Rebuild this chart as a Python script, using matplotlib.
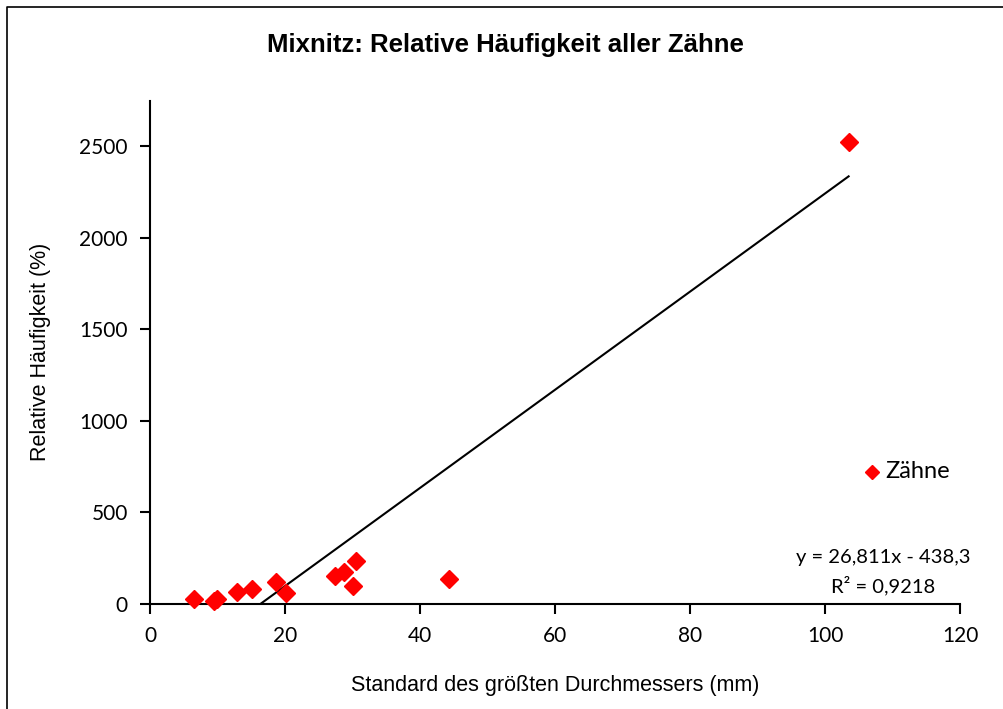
import numpy as np
import matplotlib
matplotlib.use("Agg")
import matplotlib.pyplot as plt
from matplotlib.lines import Line2D

# data
x_std = [6.5, 9.5, 9.9, 12.9, 15.1, 18.6, 20.1, 27.4, 28.7, 30.1, 30.5, 44.3, 103.5]
y_rel = [26, 18, 29, 64, 80, 118, 58, 153, 173, 98, 236, 136, 2527]
slope, intercept = 26.811, -438.3
r2 = 0.9218
xticks = [0, 20, 40, 60, 80, 100, 120]
yticks = [0, 500, 1000, 1500, 2000, 2500]

num_font = ["Lato", "DejaVu Sans"]
lab_font = ["Liberation Sans", "DejaVu Sans"]

fig = plt.figure(figsize=(10.04, 7.09), dpi=100)
ax = fig.add_axes([150 / 1004, 1 - 604 / 709, 810 / 1004, 503.3 / 709])

# trendline, clipped at y = 0 like Excel draws it
x0 = -intercept / slope
xl = np.array([x0, max(x_std)])
ax.plot(xl, slope * xl + intercept, color="black", lw=1.5, zorder=2)
ax.plot(x_std, y_rel, linestyle="none", marker="D", ms=9, color="#ff0000",
        mec="#ff0000", zorder=3, clip_on=False)

ax.set_xlim(0, 120)
ax.set_ylim(0, 2750)
ax.set_xticks(xticks)
ax.set_yticks(yticks)
for s in ["top", "right"]:
    ax.spines[s].set_visible(False)
for s in ["left", "bottom"]:
    ax.spines[s].set_linewidth(1.5)
ax.tick_params(direction="out", length=7, width=1.5, labelsize=15, pad=9)
for lab in ax.get_xticklabels() + ax.get_yticklabels():
    lab.set_fontfamily(num_font)

ax.set_xlabel("Standard des größten Durchmessers (mm)", fontsize=15.5,
              family=lab_font, labelpad=21)
ax.set_ylabel("Relative Häufigkeit (%)", fontsize=15.5,
              family=lab_font, labelpad=20)

fig.text(505 / 1004, 1 - 45 / 709, "Mixnitz: Relative Häufigkeit aller Zähne",
         ha="center", va="center", fontsize=18.5, fontweight="bold",
         family=["Liberation Sans Narrow", "Liberation Sans", "DejaVu Sans"])

# legend and equation
fig.add_artist(Line2D([872 / 1004], [1 - 472 / 709], marker="D", ms=7.5,
                      color="#ff0000", linestyle="none"))
fig.text(885 / 1004, 1 - 472 / 709, "Zähne", ha="left", va="center",
         fontsize=17, family=num_font)
eq = "y = {:.3f}x - {:.1f}".format(slope, -intercept).replace(".", ",")
fig.text(883 / 1004, 1 - 557 / 709, eq, ha="center", va="center",
         fontsize=14.5, family=num_font)
fig.text(883 / 1004, 1 - 586 / 709, "R² = " + str(r2).replace(".", ","),
         ha="center", va="center", fontsize=14.5, family=num_font)

# chart frame
fig.add_artist(Line2D([7 / 1004, 7 / 1004, 1.0], [0, 1 - 7 / 709, 1 - 7 / 709],
                      color="black", lw=1.2))

fig.savefig("out.png", dpi=100)
